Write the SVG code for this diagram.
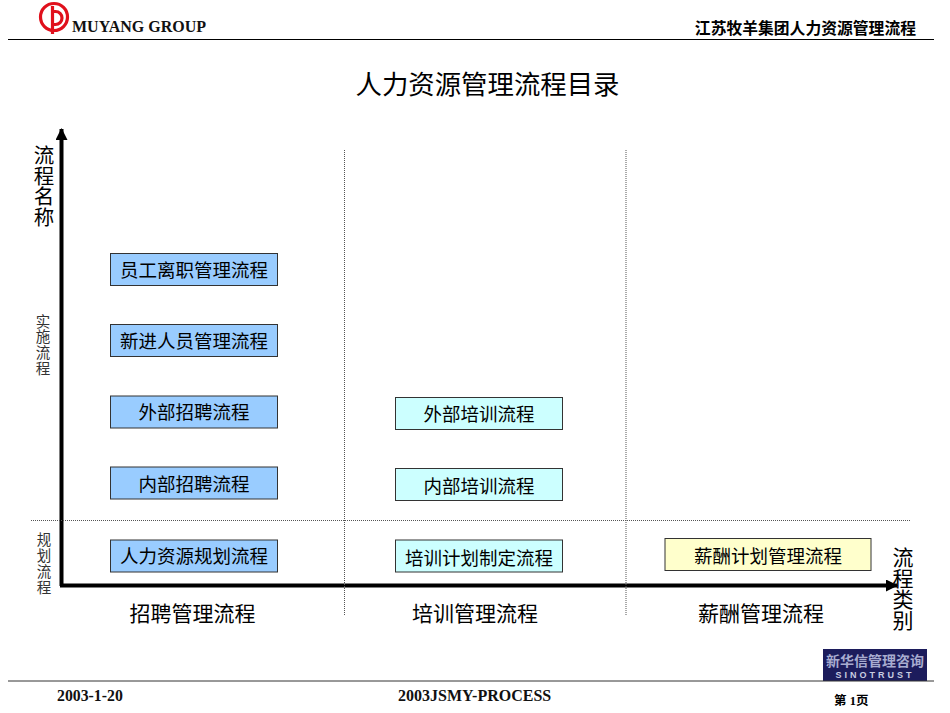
<svg xmlns="http://www.w3.org/2000/svg" width="950" height="713" viewBox="0 0 950 713">
<style>
text{font-family:"Noto Sans CJK SC","Liberation Sans",sans-serif;fill:#000}
.b{fill:#99ccff;stroke:#333;stroke-width:1}
.c{fill:#ccffff;stroke:#333;stroke-width:1}
.y{fill:#ffffcc;stroke:#333;stroke-width:1}
.t{font-size:18.5px;text-anchor:middle}
.h{font-size:21px;text-anchor:middle}
.v{writing-mode:vertical-rl}
.s{font-size:14.500px;fill:#333;writing-mode:vertical-rl}
.f{font-family:"Liberation Serif","Noto Sans CJK SC",serif;font-weight:bold}
</style>
<rect width="950" height="713" fill="#fff"/>
<g id="header">
<g fill="none" stroke="#e0101c" stroke-width="3.2"><circle cx="54" cy="17" r="13.500"/><path d="M52.500 6V34"/><path d="M52.500 11.500h3a6.500 6.500 0 0 1 0 13h-3"/></g>
<text x="72" y="32" class="f" style="font-size:16px;fill:#111">MUYANG GROUP</text>
<text x="916" y="34" class="f" text-anchor="end" style="font-size:15.800px">江苏牧羊集团人力资源管理流程</text>
<line x1="8" y1="39.500" x2="934" y2="39.500" stroke="#000" stroke-width="1"/>
</g>
<text x="487.500" y="94" text-anchor="middle" style="font-size:26.400px">人力资源管理流程目录</text>
<g id="connectors">
<defs>
<marker id="a" markerUnits="userSpaceOnUse" markerWidth="12" markerHeight="12" refX="11" refY="6" orient="auto"><path d="M0 0L12 6L0 12Z" fill="#000"/></marker>
</defs>
<path d="M61.500 586V129" fill="none" stroke="#000" stroke-width="4" marker-end="url(#a)"/>
<path d="M60 585.500H897" fill="none" stroke="#000" stroke-width="4" marker-end="url(#a)"/>
<g stroke="#555" stroke-width="1" stroke-dasharray="1 1" fill="none">
<path d="M344.500 150V616"/><path d="M626 150V616"/><path d="M31 520.500H911"/>
</g>
</g>
<g id="axis-y"><text class="v" x="44" y="145" style="font-size:20.500px">流程名称</text></g>
<g id="label-impl"><text class="s" x="43" y="314" style="letter-spacing:1.200px">实施流程</text></g>
<g id="label-plan"><text class="s" x="44" y="532" style="letter-spacing:1.600px">规划流程</text></g>
<g id="n1"><rect class="b" x="110.500" y="253.500" width="167" height="32"/><text class="t" x="194" y="277">员工离职管理流程</text></g>
<g id="n2"><rect class="b" x="110.500" y="324.500" width="167" height="32"/><text class="t" x="194" y="348">新进人员管理流程</text></g>
<g id="n3"><rect class="b" x="110.500" y="396" width="167" height="32"/><text class="t" x="194" y="419">外部招聘流程</text></g>
<g id="n4"><rect class="b" x="110.500" y="467" width="167" height="32"/><text class="t" x="194" y="491">内部招聘流程</text></g>
<g id="n5"><rect class="b" x="110.500" y="540" width="167" height="32"/><text class="t" x="194" y="563">人力资源规划流程</text></g>
<g id="n6"><rect class="c" x="395.500" y="397.500" width="167" height="32"/><text class="t" x="479" y="421">外部培训流程</text></g>
<g id="n7"><rect class="c" x="395.500" y="468.500" width="167" height="32"/><text class="t" x="479" y="493">内部培训流程</text></g>
<g id="n8"><rect class="c" x="395.500" y="540" width="167" height="32"/><text class="t" x="479" y="565">培训计划制定流程</text></g>
<g id="n9"><rect class="y" x="665" y="538.500" width="206" height="32"/><text class="t" x="768" y="563">薪酬计划管理流程</text></g>
<g id="cat1"><text class="h" x="192.500" y="621">招聘管理流程</text></g>
<g id="cat2"><text class="h" x="475" y="621">培训管理流程</text></g>
<g id="cat3"><text class="h" x="761" y="621">薪酬管理流程</text></g>
<g id="axis-x"><text class="v" x="903" y="547" style="font-size:21px">流程类别</text></g>
<g id="footer">
<rect x="823" y="649" width="104" height="32" fill="#1c1c5c"/>
<text x="875" y="666" text-anchor="middle" style="font-size:14px;font-weight:bold;fill:#a8acd0">新华信管理咨询</text>
<text x="875" y="678" text-anchor="middle" style="font-family:'Liberation Sans',sans-serif;font-size:9px;font-weight:bold;letter-spacing:3px;fill:#c8cce0">SINOTRUST</text>
<line x1="8" y1="681" x2="934" y2="681" stroke="#333" stroke-width="1"/>
<text x="57" y="701" class="f" style="font-size:15.800px;fill:#111">2003-1-20</text>
<text x="398" y="701" class="f" style="font-size:16px;fill:#111">2003JSMY-PROCESS</text>
<text x="834" y="705" class="f" style="font-size:12.500px">第 1页</text>
</g>
</svg>
